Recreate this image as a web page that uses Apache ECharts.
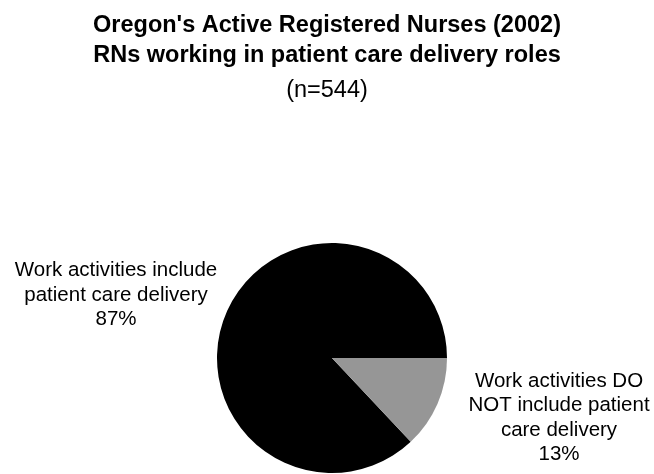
<!DOCTYPE html>
<html><head><meta charset="utf-8">
<script src="https://cdn.jsdelivr.net/npm/echarts@6/dist/echarts.min.js"></script>
<style>html,body{margin:0;padding:0;background:#fff}#c{width:654px;height:474px}</style>
</head><body><div id="c"></div>
<script>
var categories = ["Work activities include\npatient care delivery", "Work activities DO\nNOT include patient\ncare delivery"];
var values = [87, 13];
var colors = ["#000000", "#969696"];
var titleLines = ["Oregon's Active Registered Nurses (2002)", "RNs working in patient care delivery roles"];
var subtitle = "(n=544)";

var total = values.reduce(function(a,b){return a+b;},0);
var chart = echarts.init(document.getElementById('c'));
var labelPos = [{x:116, y:295}, {x:559, y:418}];
chart.setOption({
  animation:false,
  title:{
    text: titleLines.join('\n'),
    subtext: subtitle,
    left:'center', top:6, itemGap:5,
    textStyle:{fontFamily:'Liberation Sans', fontWeight:'bold', fontSize:23.5, lineHeight:30, color:'#000'},
    subtextStyle:{fontFamily:'Liberation Sans', fontSize:23.5, color:'#000', lineHeight:30}
  },
  series:[{
    type:'pie',
    center:[332,358],
    radius:115,
    startAngle: 360*values[0]/total,
    clockwise:true,
    data: categories.map(function(c,i){return {name:c, value:values[i], itemStyle:{color:colors[i]}};}),
    label:{
      show:true, position:'outside', overflow:'none', bleedMargin:0,
      formatter:'{b}\n{d}%',
      fontFamily:'Liberation Sans', fontSize:20.5, lineHeight:24.5, color:'#000', align:'center'
    },
    labelLine:{show:false},
    labelLayout:function(p){
      var lp = labelPos[p.dataIndex];
      return {x:lp.x, y:lp.y, align:'center', verticalAlign:'middle'};
    },
    emphasis:{disabled:true}
  }]
});
</script></body></html>
